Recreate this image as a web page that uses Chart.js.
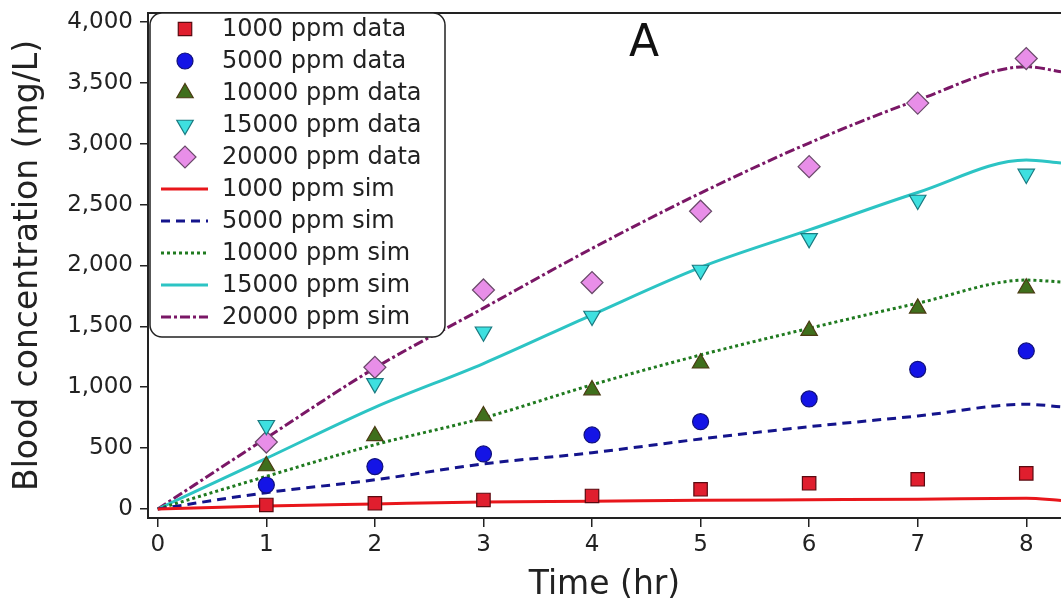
<!DOCTYPE html>
<html>
<head>
<meta charset="utf-8">
<script src="https://cdn.jsdelivr.net/npm/chart.js@4.4.1/dist/chart.umd.min.js"></script>
<style>
    html, body { margin: 0; padding: 0; background: #ffffff; }
    #wrap { width: 1061px; height: 605px; }
</style>
</head>
<body>
<div id="wrap"><canvas id="pkChart" width="1061" height="605"></canvas></div>
<script>
// measured blood concentrations (mg/L) per exposure level
const hours = [1, 2, 3, 4, 5, 6, 7, 8];
const data1000 = [33, 47, 74, 107, 162, 211, 244, 293];
const data5000 = [197, 348, 452, 608, 717, 904, 1147, 1298];
const data10000 = [353, 600, 764, 977, 1197, 1465, 1648, 1813];
const data15000 = [688, 1032, 1456, 1585, 1963, 2223, 2538, 2752];
const data20000 = [550, 1164, 1799, 1860, 2446, 2812, 3334, 3700];

// simulated curves
const simHours = [0, 1, 2, 3, 4, 5, 6, 7, 8, 8.32];
const sim1000 = [0, 25, 42, 58, 64, 72, 76, 80, 88, 70];
const sim5000 = [0, 134, 240, 370, 462, 575, 676, 764, 860, 840];
const sim10000 = [0, 268, 528, 748, 1020, 1265, 1484, 1690, 1880, 1865];
const sim15000 = [0, 416, 835, 1195, 1595, 1985, 2292, 2600, 2867, 2842];
const sim20000 = [0, 583, 1158, 1650, 2140, 2595, 3006, 3359, 3633, 3592];

const xTicks = [0, 1, 2, 3, 4, 5, 6, 7, 8];
const yTicks = [0, 500, 1000, 1500, 2000, 2500, 3000, 3500, 4000];

const FONT = 'DejaVu Sans';
const INK = '#222222';

const pts = (xs, ys) => xs.map((x, i) => ({ x: x, y: ys[i] }));

function dataSet(label, ys, style, fill, edge, radius, rotation) {
    return {
        label: label,
        data: pts(hours, ys),
        showLine: false,
        pointStyle: style,
        rotation: rotation || 0,
        pointRadius: radius,
        pointHoverRadius: radius,
        backgroundColor: fill,
        borderColor: edge,
        borderWidth: 1.2,
        order: 0
    };
}

function simSet(label, ys, colour, dash) {
    return {
        label: label,
        data: pts(simHours, ys),
        showLine: true,
        pointRadius: 0,
        borderColor: colour,
        backgroundColor: colour,
        borderWidth: 3,
        borderDash: dash,
        tension: 0.3,
        cubicInterpolationMode: 'monotone',
        fill: false,
        order: 1
    };
}

const datasets = [
    dataSet('1000 ppm data', data1000, 'rect', '#e01e2e', '#5a0a10', 9.5),
    dataSet('5000 ppm data', data5000, 'circle', '#1414e6', '#10107a', 8),
    dataSet('10000 ppm data', data10000, 'triangle', '#3f6f1c', '#4a3b12', 9.5),
    dataSet('15000 ppm data', data15000, 'triangle', '#3ee0e0', '#1a7a80', 9.5, 180),
    dataSet('20000 ppm data', data20000, 'rectRot', '#e88ee8', '#6a4a6a', 11),
    simSet('1000 ppm sim', sim1000, '#e8161b', []),
    simSet('5000 ppm sim', sim5000, '#14148c', [9, 6]),
    simSet('10000 ppm sim', sim10000, '#1f7a1f', [3, 3]),
    simSet('15000 ppm sim', sim15000, '#2cc4c4', []),
    simSet('20000 ppm sim', sim20000, '#7a1766', [10, 3, 3, 3])
];

// boxed legend inside the plot, frame top line and panel letter
const overlay = {
    id: 'overlay',
    afterDatasetsDraw(chart) {
        const ctx = chart.ctx;
        const area = chart.chartArea;
        ctx.save();

        // top frame line
        ctx.strokeStyle = INK;
        ctx.lineWidth = 2;
        ctx.beginPath();
        ctx.moveTo(area.left, area.top);
        ctx.lineTo(area.right, area.top);
        ctx.stroke();

        // legend box
        const bx = 150, by = 13, bw = 295, bh = 324, r = 12;
        ctx.beginPath();
        ctx.roundRect(bx, by, bw, bh, r);
        ctx.fillStyle = '#ffffff';
        ctx.fill();
        ctx.lineWidth = 1.5;
        ctx.strokeStyle = INK;
        ctx.stroke();

        ctx.font = '24px "' + FONT + '"';
        ctx.textBaseline = 'middle';
        ctx.textAlign = 'left';
        chart.data.datasets.forEach((ds, i) => {
            const y = 29 + i * 32;
            const cx = 185;
            if (ds.showLine) {
                ctx.setLineDash(ds.borderDash);
                ctx.strokeStyle = ds.borderColor;
                ctx.lineWidth = ds.borderWidth;
                ctx.beginPath();
                ctx.moveTo(161, y);
                ctx.lineTo(208, y);
                ctx.stroke();
                ctx.setLineDash([]);
            } else {
                ctx.fillStyle = ds.backgroundColor;
                ctx.strokeStyle = ds.borderColor;
                ctx.lineWidth = ds.borderWidth;
                Chart.helpers.drawPoint(ctx, {
                    pointStyle: ds.pointStyle,
                    rotation: ds.rotation,
                    radius: ds.pointRadius,
                    borderWidth: ds.borderWidth
                }, cx, y);
            }
            ctx.fillStyle = INK;
            ctx.fillText(ds.label, 222, y + 1);
        });

        // panel letter
        ctx.font = '44px "' + FONT + '"';
        ctx.textAlign = 'center';
        ctx.fillStyle = '#111111';
        ctx.fillText('A', 644, 45);
        ctx.restore();
    }
};

const tickFont = { family: FONT, size: 23 };
const titleFont = { family: FONT, size: 33 };

new Chart(document.getElementById('pkChart').getContext('2d'), {
    type: 'scatter',
    data: { datasets: datasets },
    options: {
        responsive: false,
        devicePixelRatio: 1,
        animation: false,
        layout: { autoPadding: false, padding: { top: 13, right: 0, left: 0, bottom: 0 } },
        plugins: {
            legend: { display: false },
            tooltip: { enabled: false }
        },
        scales: {
            x: {
                type: 'linear',
                min: -0.09,
                max: 8.32,
                afterBuildTicks: s => { s.ticks = xTicks.map(v => ({ value: v })); },
                afterFit: s => { s.height = 87; s.paddingLeft = 0; s.paddingRight = 0; },
                grid: { drawOnChartArea: false, drawTicks: true, tickLength: 9, color: INK, lineWidth: 1.5 },
                border: { color: INK, width: 2 },
                ticks: { color: INK, font: tickFont, padding: 4, maxRotation: 0 },
                title: { display: true, text: 'Time (hr)', color: INK, font: titleFont, padding: { top: 0, bottom: 0 } }
            },
            y: {
                type: 'linear',
                min: -74,
                max: 4074,
                afterBuildTicks: s => { s.ticks = yTicks.map(v => ({ value: v })); },
                afterFit: s => { s.width = 148; s.paddingTop = 0; s.paddingBottom = 0; },
                grid: { drawOnChartArea: false, drawTicks: true, tickLength: 8, color: INK, lineWidth: 1.5 },
                border: { color: INK, width: 2 },
                ticks: {
                    color: INK,
                    font: tickFont,
                    padding: 7,
                    callback: v => v.toLocaleString('en-US')
                },
                title: { display: true, text: 'Blood concentration (mg/L)', color: INK, font: titleFont, padding: { top: 9, bottom: 0 } }
            }
        }
    },
    plugins: [overlay]
});
</script>
</body>
</html>
